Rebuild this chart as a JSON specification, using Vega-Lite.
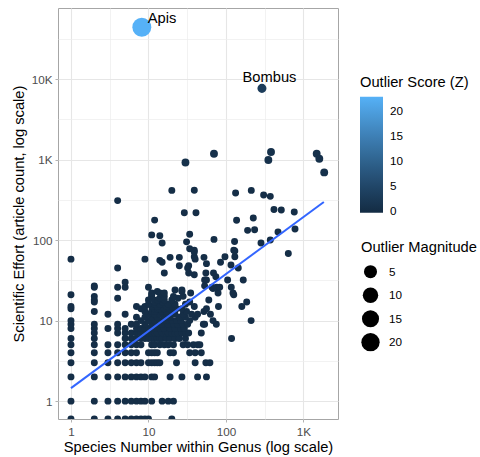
{
"$schema":"https://vega.github.io/schema/vega-lite/v6.json",
"width":280,"height":411,
"autosize":"none",
"padding":{"left":58,"top":8,"right":142,"bottom":38},
"config":{
 "font":"Liberation Sans",
 "view":{"stroke":"#A6A6A6","strokeWidth":1},
 "axis":{"labelFont":"Liberation Sans","labelFontSize":11.7,"labelColor":"#4D4D4D","titleFont":"Liberation Sans","titleFontSize":14.7,"titleFontWeight":"normal","titleColor":"#000000","tickColor":"#B3B3B3","tickSize":3,"domain":false,"gridColor":"#E6E6E6","gridWidth":1.1},
 "legend":{"titleFont":"Liberation Sans","titleFontSize":14.7,"titleFontWeight":"normal","titleColor":"#000000","labelFont":"Liberation Sans","labelFontSize":11.7,"labelColor":"#000000","padding":0}
},
"datasets":{
"pts":[
{"species":1,"articles":0.6,"z":0.3,"mag":0.35},{"species":2,"articles":0.6,"z":0.3,"mag":0.35},{"species":3,"articles":0.6,"z":0.3,"mag":0.35},{"species":4,"articles":0.6,"z":0.3,"mag":0.35},{"species":5,"articles":0.6,"z":0.3,"mag":0.35},{"species":6,"articles":0.6,"z":0.3,"mag":0.35},{"species":7,"articles":0.6,"z":0.3,"mag":0.35},{"species":8,"articles":0.6,"z":0.3,"mag":0.35},{"species":9,"articles":0.6,"z":0.3,"mag":0.35},{"species":10,"articles":0.6,"z":0.3,"mag":0.35},{"species":20,"articles":0.6,"z":0.3,"mag":0.35},
{"species":1,"articles":1,"z":0.3,"mag":0.35},{"species":2,"articles":1,"z":0.3,"mag":0.35},{"species":3,"articles":1,"z":0.3,"mag":0.35},{"species":4,"articles":1,"z":0.3,"mag":0.35},{"species":5,"articles":1,"z":0.3,"mag":0.35},{"species":6,"articles":1,"z":0.3,"mag":0.35},{"species":7,"articles":1,"z":0.3,"mag":0.35},{"species":8,"articles":1,"z":0.3,"mag":0.35},{"species":9,"articles":1,"z":0.3,"mag":0.35},{"species":11,"articles":1,"z":0.3,"mag":0.35},{"species":15,"articles":1,"z":0.3,"mag":0.35},{"species":18,"articles":1,"z":0.3,"mag":0.35},{"species":21,"articles":1,"z":0.3,"mag":0.35},
{"species":1,"articles":2,"z":0.3,"mag":0.35},{"species":2,"articles":2,"z":0.3,"mag":0.35},{"species":3,"articles":2,"z":0.3,"mag":0.35},{"species":4,"articles":2,"z":0.3,"mag":0.35},{"species":5,"articles":2,"z":0.3,"mag":0.35},{"species":6,"articles":2,"z":0.3,"mag":0.35},{"species":7,"articles":2,"z":0.3,"mag":0.35},{"species":8,"articles":2,"z":0.3,"mag":0.35},{"species":9,"articles":2,"z":0.3,"mag":0.35},{"species":11,"articles":2,"z":0.3,"mag":0.35},{"species":12,"articles":2,"z":0.3,"mag":0.35},{"species":19,"articles":2,"z":0.3,"mag":0.35},{"species":27,"articles":2,"z":0.3,"mag":0.35},{"species":43,"articles":2,"z":0.3,"mag":0.35},{"species":56,"articles":2,"z":0.3,"mag":0.35},
{"species":1,"articles":3,"z":0.3,"mag":0.35},{"species":2,"articles":3,"z":0.3,"mag":0.35},{"species":3,"articles":3,"z":0.3,"mag":0.35},{"species":4,"articles":3,"z":0.3,"mag":0.35},{"species":5,"articles":3,"z":0.3,"mag":0.35},{"species":6,"articles":3,"z":0.3,"mag":0.35},{"species":7,"articles":3,"z":0.3,"mag":0.35},{"species":8,"articles":3,"z":0.3,"mag":0.35},{"species":10,"articles":3,"z":0.3,"mag":0.35},{"species":11,"articles":3,"z":0.3,"mag":0.35},{"species":12,"articles":3,"z":0.3,"mag":0.35},{"species":13,"articles":3,"z":0.3,"mag":0.35},{"species":14,"articles":3,"z":0.3,"mag":0.35},{"species":23,"articles":3,"z":0.3,"mag":0.35},{"species":40,"articles":3,"z":0.3,"mag":0.35},{"species":55,"articles":3,"z":0.3,"mag":0.35},{"species":62,"articles":3,"z":0.3,"mag":0.35},
{"species":1,"articles":4,"z":0.3,"mag":0.35},{"species":2,"articles":4,"z":0.3,"mag":0.35},{"species":3,"articles":4,"z":0.3,"mag":0.35},{"species":4,"articles":4,"z":0.3,"mag":0.35},{"species":5,"articles":4,"z":0.3,"mag":0.35},{"species":6,"articles":4,"z":0.3,"mag":0.35},{"species":7,"articles":4,"z":0.3,"mag":0.35},{"species":10,"articles":4,"z":0.3,"mag":0.35},{"species":11,"articles":4,"z":0.3,"mag":0.35},{"species":12,"articles":4,"z":0.3,"mag":0.35},{"species":13,"articles":4,"z":0.3,"mag":0.35},{"species":19,"articles":4,"z":0.3,"mag":0.35},{"species":21,"articles":4,"z":0.3,"mag":0.35},{"species":34,"articles":4,"z":0.3,"mag":0.35},{"species":40,"articles":4,"z":0.3,"mag":0.35},{"species":48,"articles":4,"z":0.3,"mag":0.35},
{"species":1,"articles":5,"z":0.3,"mag":0.35},{"species":2,"articles":5,"z":0.3,"mag":0.35},{"species":3,"articles":5,"z":0.3,"mag":0.35},{"species":4,"articles":5,"z":0.3,"mag":0.35},{"species":5,"articles":5,"z":0.3,"mag":0.35},{"species":6,"articles":5,"z":0.3,"mag":0.35},{"species":7,"articles":5,"z":0.3,"mag":0.35},{"species":8,"articles":5,"z":0.3,"mag":0.35},{"species":11,"articles":5,"z":0.3,"mag":0.35},{"species":12,"articles":5,"z":0.3,"mag":0.35},{"species":14,"articles":5,"z":0.3,"mag":0.35},{"species":16,"articles":5,"z":0.3,"mag":0.35},{"species":18,"articles":5,"z":0.3,"mag":0.35},{"species":21,"articles":5,"z":0.3,"mag":0.35},{"species":28,"articles":5,"z":0.3,"mag":0.35},{"species":32,"articles":5,"z":0.3,"mag":0.35},{"species":38,"articles":5,"z":0.3,"mag":0.35},{"species":43,"articles":5,"z":0.3,"mag":0.35},{"species":46,"articles":5,"z":0.3,"mag":0.35},
{"species":1,"articles":6,"z":0.3,"mag":0.35},{"species":2,"articles":6,"z":0.3,"mag":0.35},{"species":5,"articles":6,"z":0.3,"mag":0.35},{"species":6,"articles":6,"z":0.3,"mag":0.35},{"species":7,"articles":6,"z":0.3,"mag":0.35},{"species":8,"articles":6,"z":0.3,"mag":0.35},{"species":9,"articles":6,"z":0.3,"mag":0.35},{"species":10,"articles":6,"z":0.3,"mag":0.35},{"species":11,"articles":6,"z":0.3,"mag":0.35},{"species":12,"articles":6,"z":0.3,"mag":0.35},{"species":13,"articles":6,"z":0.3,"mag":0.35},{"species":14,"articles":6,"z":0.3,"mag":0.35},{"species":15,"articles":6,"z":0.3,"mag":0.35},{"species":17,"articles":6,"z":0.3,"mag":0.35},{"species":19,"articles":6,"z":0.3,"mag":0.35},{"species":22,"articles":6,"z":0.3,"mag":0.35},{"species":25,"articles":6,"z":0.3,"mag":0.35},{"species":30,"articles":6,"z":0.3,"mag":0.35},{"species":118,"articles":6,"z":0.3,"mag":0.35},
{"species":2,"articles":7,"z":0.3,"mag":0.35},{"species":4,"articles":7,"z":0.3,"mag":0.35},{"species":5,"articles":7,"z":0.3,"mag":0.35},{"species":6,"articles":7,"z":0.3,"mag":0.35},{"species":7,"articles":7,"z":0.3,"mag":0.35},{"species":8,"articles":7,"z":0.3,"mag":0.35},{"species":9,"articles":7,"z":0.3,"mag":0.35},{"species":10,"articles":7,"z":0.3,"mag":0.35},{"species":11,"articles":7,"z":0.3,"mag":0.35},{"species":12,"articles":7,"z":0.3,"mag":0.35},{"species":13,"articles":7,"z":0.3,"mag":0.35},{"species":15,"articles":7,"z":0.3,"mag":0.35},{"species":17,"articles":7,"z":0.3,"mag":0.35},{"species":18,"articles":7,"z":0.3,"mag":0.35},{"species":20,"articles":7,"z":0.3,"mag":0.35},{"species":22,"articles":7,"z":0.3,"mag":0.35},{"species":24,"articles":7,"z":0.3,"mag":0.35},{"species":27,"articles":7,"z":0.3,"mag":0.35},{"species":30,"articles":7,"z":0.3,"mag":0.35},{"species":33,"articles":7,"z":0.3,"mag":0.35},{"species":48,"articles":7,"z":0.3,"mag":0.35},
{"species":1,"articles":8,"z":0.3,"mag":0.35},{"species":2,"articles":8,"z":0.3,"mag":0.35},{"species":3,"articles":8,"z":0.3,"mag":0.35},{"species":4,"articles":8,"z":0.3,"mag":0.35},{"species":5,"articles":8,"z":0.3,"mag":0.35},{"species":7,"articles":8,"z":0.3,"mag":0.35},{"species":8,"articles":8,"z":0.3,"mag":0.35},{"species":9,"articles":8,"z":0.3,"mag":0.35},{"species":10,"articles":8,"z":0.3,"mag":0.35},{"species":12,"articles":8,"z":0.3,"mag":0.35},{"species":14,"articles":8,"z":0.3,"mag":0.35},{"species":16,"articles":8,"z":0.3,"mag":0.35},{"species":19,"articles":8,"z":0.3,"mag":0.35},{"species":22,"articles":8,"z":0.3,"mag":0.35},{"species":26,"articles":8,"z":0.3,"mag":0.35},{"species":29,"articles":8,"z":0.3,"mag":0.35},
{"species":1,"articles":9,"z":0.3,"mag":0.35},{"species":2,"articles":9,"z":0.3,"mag":0.35},{"species":4,"articles":9,"z":0.3,"mag":0.35},{"species":6,"articles":9,"z":0.3,"mag":0.35},{"species":7,"articles":9,"z":0.3,"mag":0.35},{"species":9,"articles":9,"z":0.3,"mag":0.35},{"species":11,"articles":9,"z":0.3,"mag":0.35},{"species":13,"articles":9,"z":0.3,"mag":0.35},{"species":15,"articles":9,"z":0.3,"mag":0.35},{"species":18,"articles":9,"z":0.3,"mag":0.35},{"species":21,"articles":9,"z":0.3,"mag":0.35},{"species":24,"articles":9,"z":0.3,"mag":0.35},{"species":28,"articles":9,"z":0.3,"mag":0.35},{"species":32,"articles":9,"z":0.3,"mag":0.35},{"species":51,"articles":9,"z":0.3,"mag":0.35},{"species":53,"articles":9,"z":0.3,"mag":0.35},{"species":75,"articles":9,"z":0.3,"mag":0.35},
{"species":1,"articles":10,"z":0.3,"mag":0.35},{"species":8,"articles":10,"z":0.3,"mag":0.35},{"species":10,"articles":10,"z":0.3,"mag":0.35},{"species":12,"articles":10,"z":0.3,"mag":0.35},{"species":14,"articles":10,"z":0.3,"mag":0.35},{"species":17,"articles":10,"z":0.3,"mag":0.35},{"species":20,"articles":10,"z":0.3,"mag":0.35},{"species":23,"articles":10,"z":0.3,"mag":0.35},{"species":26,"articles":10,"z":0.3,"mag":0.35},{"species":34,"articles":10,"z":0.3,"mag":0.35},{"species":68,"articles":10,"z":0.3,"mag":0.35},{"species":211,"articles":10,"z":0.3,"mag":0.35},
{"species":7,"articles":11,"z":0.3,"mag":0.35},{"species":9,"articles":11,"z":0.3,"mag":0.35},{"species":11,"articles":11,"z":0.3,"mag":0.35},{"species":13,"articles":11,"z":0.3,"mag":0.35},{"species":16,"articles":11,"z":0.3,"mag":0.35},{"species":19,"articles":11,"z":0.3,"mag":0.35},{"species":25,"articles":11,"z":0.3,"mag":0.35},{"species":30,"articles":11,"z":0.3,"mag":0.35},{"species":40,"articles":11,"z":0.3,"mag":0.35},
{"species":3,"articles":12,"z":0.3,"mag":0.35},{"species":5,"articles":12,"z":0.3,"mag":0.35},{"species":10,"articles":12,"z":0.3,"mag":0.35},{"species":12,"articles":12,"z":0.3,"mag":0.35},{"species":14,"articles":12,"z":0.3,"mag":0.35},{"species":18,"articles":12,"z":0.3,"mag":0.35},{"species":22,"articles":12,"z":0.3,"mag":0.35},{"species":28,"articles":12,"z":0.3,"mag":0.35},{"species":36,"articles":12,"z":0.3,"mag":0.35},{"species":43,"articles":12,"z":0.3,"mag":0.35},{"species":63,"articles":12,"z":0.3,"mag":0.35},
{"species":2,"articles":13,"z":0.3,"mag":0.35},{"species":9,"articles":13,"z":0.3,"mag":0.35},{"species":11,"articles":13,"z":0.3,"mag":0.35},{"species":12,"articles":13,"z":0.3,"mag":0.35},{"species":15,"articles":13,"z":0.3,"mag":0.35},{"species":17,"articles":13,"z":0.3,"mag":0.35},{"species":21,"articles":13,"z":0.3,"mag":0.35},{"species":31,"articles":13,"z":0.3,"mag":0.35},{"species":52,"articles":13,"z":0.3,"mag":0.35},
{"species":1,"articles":14,"z":0.3,"mag":0.35},{"species":8,"articles":14,"z":0.3,"mag":0.35},{"species":12,"articles":14,"z":0.3,"mag":0.35},{"species":13,"articles":14,"z":0.3,"mag":0.35},{"species":14,"articles":14,"z":0.3,"mag":0.35},{"species":16,"articles":14,"z":0.3,"mag":0.35},{"species":19,"articles":14,"z":0.3,"mag":0.35},{"species":23,"articles":14,"z":0.3,"mag":0.35},{"species":27,"articles":14,"z":0.3,"mag":0.35},{"species":56,"articles":14,"z":0.3,"mag":0.35},
{"species":1,"articles":15,"z":0.3,"mag":0.35},{"species":7,"articles":15,"z":0.3,"mag":0.35},{"species":9,"articles":15,"z":0.3,"mag":0.35},{"species":11,"articles":15,"z":0.3,"mag":0.35},{"species":13,"articles":15,"z":0.3,"mag":0.35},{"species":17,"articles":15,"z":0.3,"mag":0.35},{"species":20,"articles":15,"z":0.3,"mag":0.35},{"species":39,"articles":15,"z":0.3,"mag":0.35},{"species":80,"articles":15,"z":0.3,"mag":0.35},{"species":160,"articles":15,"z":0.3,"mag":0.35},
{"species":10,"articles":16,"z":0.3,"mag":0.35},{"species":12,"articles":16,"z":0.3,"mag":0.35},{"species":14,"articles":16,"z":0.3,"mag":0.35},{"species":18,"articles":16,"z":0.3,"mag":0.35},{"species":22,"articles":16,"z":0.3,"mag":0.35},{"species":30,"articles":16,"z":0.3,"mag":0.35},
{"species":2,"articles":17,"z":0.3,"mag":0.35},{"species":12,"articles":17,"z":0.3,"mag":0.35},{"species":15,"articles":17,"z":0.3,"mag":0.35},{"species":34,"articles":17,"z":0.3,"mag":0.35},{"species":185,"articles":17,"z":0.3,"mag":0.35},
{"species":2,"articles":18,"z":0.3,"mag":0.35},{"species":10,"articles":18,"z":0.3,"mag":0.35},{"species":13,"articles":18,"z":0.3,"mag":0.35},{"species":16,"articles":18,"z":0.3,"mag":0.35},{"species":20,"articles":18,"z":0.3,"mag":0.35},{"species":60,"articles":18,"z":0.3,"mag":0.35},
{"species":4,"articles":19,"z":0.3,"mag":0.35},{"species":11,"articles":19,"z":0.3,"mag":0.35},{"species":14,"articles":19,"z":0.3,"mag":0.35},{"species":24,"articles":19,"z":0.3,"mag":0.35},
{"species":2,"articles":20,"z":0.3,"mag":0.35},{"species":11,"articles":20,"z":0.3,"mag":0.35},{"species":16,"articles":20,"z":0.3,"mag":0.35},{"species":21,"articles":20,"z":0.3,"mag":0.35},{"species":28,"articles":20,"z":0.3,"mag":0.35},
{"species":1,"articles":21,"z":0.3,"mag":0.35},{"species":11,"articles":21,"z":0.3,"mag":0.35},{"species":126,"articles":21,"z":0.3,"mag":0.35},
{"species":11,"articles":22,"z":0.3,"mag":0.35},{"species":14,"articles":22,"z":0.3,"mag":0.35},{"species":16,"articles":22,"z":0.3,"mag":0.35},{"species":35,"articles":22,"z":0.3,"mag":0.35},{"species":79,"articles":22,"z":0.3,"mag":0.35},{"species":123,"articles":22,"z":0.3,"mag":0.35},
{"species":13,"articles":23,"z":0.3,"mag":0.35},{"species":27,"articles":23,"z":0.3,"mag":0.35},{"species":22,"articles":24,"z":0.3,"mag":0.35},{"species":27,"articles":24,"z":0.3,"mag":0.35},{"species":68,"articles":25,"z":0.3,"mag":0.35},
{"species":2,"articles":26,"z":0.3,"mag":0.35},{"species":4,"articles":26,"z":0.3,"mag":0.35},{"species":5,"articles":26,"z":0.3,"mag":0.35},{"species":10,"articles":26,"z":0.3,"mag":0.35},{"species":66,"articles":26,"z":0.3,"mag":0.35},{"species":76,"articles":26,"z":0.3,"mag":0.35},{"species":83,"articles":26,"z":0.3,"mag":0.35},{"species":117,"articles":26,"z":0.3,"mag":0.35},
{"species":2,"articles":27,"z":0.3,"mag":0.35},{"species":53,"articles":27,"z":0.3,"mag":0.35},{"species":5,"articles":30,"z":0.3,"mag":0.35},
{"species":53,"articles":32,"z":0.3,"mag":0.35},{"species":56,"articles":32,"z":0.3,"mag":0.35},{"species":105,"articles":32,"z":0.3,"mag":0.35},{"species":167,"articles":32,"z":0.3,"mag":0.35},
{"species":74,"articles":35,"z":0.3,"mag":0.35},{"species":39,"articles":37,"z":0.3,"mag":0.35},
{"species":16,"articles":39,"z":0.3,"mag":0.35},{"species":33,"articles":39,"z":0.3,"mag":0.35},{"species":55,"articles":39,"z":0.3,"mag":0.35},{"species":69,"articles":39,"z":0.3,"mag":0.35},
{"species":4,"articles":45,"z":0.3,"mag":0.35},{"species":32,"articles":45,"z":0.3,"mag":0.35},{"species":144,"articles":45,"z":0.3,"mag":0.35},
{"species":25,"articles":48,"z":0.3,"mag":0.35},{"species":33,"articles":48,"z":0.3,"mag":0.35},{"species":116,"articles":49,"z":0.3,"mag":0.35},{"species":56,"articles":51,"z":0.3,"mag":0.35},
{"species":15,"articles":53,"z":0.3,"mag":0.35},{"species":85,"articles":53,"z":0.3,"mag":0.35},{"species":14,"articles":56,"z":0.3,"mag":0.35},
{"species":1,"articles":58,"z":0.3,"mag":0.35},{"species":9,"articles":58,"z":0.3,"mag":0.35},{"species":40,"articles":58,"z":0.3,"mag":0.35},
{"species":19,"articles":61,"z":0.3,"mag":0.35},{"species":25,"articles":61,"z":0.3,"mag":0.35},{"species":52,"articles":61,"z":0.3,"mag":0.35},
{"species":39,"articles":62,"z":0.3,"mag":0.35},{"species":97,"articles":62,"z":0.3,"mag":0.35},{"species":130,"articles":62,"z":0.3,"mag":0.35},
{"species":637,"articles":68,"z":0.3,"mag":0.35},{"species":39,"articles":71,"z":0.3,"mag":0.35},{"species":130,"articles":73,"z":0.3,"mag":0.35},
{"species":39,"articles":75,"z":0.3,"mag":0.35},{"species":126,"articles":75,"z":0.3,"mag":0.35},{"species":34,"articles":78,"z":0.3,"mag":0.35},
{"species":15,"articles":92,"z":0.3,"mag":0.35},{"species":283,"articles":92,"z":0.3,"mag":0.35},{"species":31,"articles":95,"z":0.3,"mag":0.35},{"species":129,"articles":96,"z":0.3,"mag":0.35},
{"species":373,"articles":100,"z":0.3,"mag":0.35},{"species":70,"articles":102,"z":0.3,"mag":0.35},{"species":14,"articles":113,"z":0.3,"mag":0.35},{"species":11,"articles":116,"z":0.3,"mag":0.35},{"species":34,"articles":118,"z":0.3,"mag":0.35},
{"species":469,"articles":126,"z":0.3,"mag":0.35},{"species":190,"articles":132,"z":0.3,"mag":0.35},{"species":234,"articles":134,"z":0.3,"mag":0.35},{"species":777,"articles":137,"z":0.3,"mag":0.35},
{"species":137,"articles":176,"z":0.3,"mag":0.35},{"species":12,"articles":177,"z":0.3,"mag":0.35},{"species":225,"articles":188,"z":0.3,"mag":0.35},
{"species":29,"articles":218,"z":0.3,"mag":0.35},{"species":41,"articles":218,"z":0.3,"mag":0.35},{"species":760,"articles":223,"z":0.3,"mag":0.35},{"species":517,"articles":236,"z":0.3,"mag":0.35},{"species":416,"articles":240,"z":0.3,"mag":0.35},
{"species":4,"articles":309,"z":0.3,"mag":0.35},{"species":373,"articles":349,"z":0.3,"mag":0.35},{"species":306,"articles":362,"z":0.3,"mag":0.35},{"species":133,"articles":384,"z":0.3,"mag":0.35},
{"species":20,"articles":414,"z":0.3,"mag":0.35},{"species":212,"articles":414,"z":0.3,"mag":0.35},{"species":39,"articles":416,"z":0.3,"mag":0.35},
{"species":1850,"articles":692,"z":0.8,"mag":0.6},{"species":30,"articles":920,"z":0.8,"mag":0.6},{"species":352,"articles":986,"z":0.8,"mag":0.6},{"species":1600,"articles":1023,"z":0.8,"mag":0.6},{"species":70,"articles":1180,"z":0.8,"mag":0.6},{"species":1480,"articles":1180,"z":0.8,"mag":0.6},{"species":381,"articles":1240,"z":0.8,"mag":0.6},
{"species":291,"articles":7660,"z":3,"mag":1.1,"genus":"Bombus"},
{"species":8.2,"articles":43900,"z":22.8,"mag":22.8,"genus":"Apis"}
],
"fit":[{"species":1,"articles":1.45},{"species":1830,"articles":297}]
},
"layer":[
{
 "data":{"name":"pts"},
 "mark":{"type":"point","filled":true,"shape":"circle","opacity":1,"clip":true},
 "encoding":{
  "x":{"field":"species","type":"quantitative","scale":{"type":"log","domain":[0.68,2787],"nice":false},
   "axis":{"values":[1,10,100,1000],"labelExpr":"datum.value >= 1000 ? format(datum.value/1000,'d') + 'K' : format(datum.value,'d')","title":"Species Number within Genus (log scale)","labelPadding":4,"titlePadding":2,"grid":true,"labelFlush":false,"labelOverlap":false}},
  "y":{"field":"articles","type":"quantitative","scale":{"type":"log","domain":[0.6,76200],"nice":false},
   "axis":{"values":[1,10,100,1000,10000],"labelExpr":"datum.value >= 1000 ? format(datum.value/1000,'d') + 'K' : format(datum.value,'d')","title":"Scientific Effort (article count, log scale)","labelPadding":3,"titlePadding":5,"grid":true,"labelFlush":false,"labelOverlap":false}},
  "color":{"field":"z","type":"quantitative","scale":{"domain":[-0.3,22.8],"range":["#132B43","#56B1F7"],"interpolate":"lab"},
   "legend":{"title":"Outlier Score (Z)","orient":"none","legendX":302,"legendY":67,"direction":"vertical","gradientLength":116,"gradientThickness":23,"gradientStrokeWidth":0,"values":[0,5,10,15,20],"titlePadding":7,"labelOffset":7,"labelBaseline":"middle"}},
  "size":{"field":"mag","type":"quantitative","scale":{"type":"sqrt","domain":[0,23],"range":[4.5,360]},
   "legend":{"title":"Outlier Magnitude","orient":"none","legendX":303,"legendY":232,"values":[5,10,15,20],"symbolType":"circle","symbolFillColor":"#000000","symbolStrokeWidth":0,"symbolOpacity":1,"labelOffset":9,"titlePadding":7.5,"clipHeight":19,"rowPadding":4.5}}
 }
},
{
 "data":{"name":"fit"},
 "mark":{"type":"line","color":"#3366FF","strokeWidth":2},
 "encoding":{
  "x":{"field":"species","type":"quantitative","axis":{"orient":"top","values":[3.1623,31.623,316.23],"grid":true,"gridWidth":0.7,"gridColor":"#EDEDED","labels":false,"ticks":false,"domain":false,"title":null}},
  "y":{"field":"articles","type":"quantitative","axis":{"orient":"right","values":[3.1623,31.623,316.23,3162.3,31623],"grid":true,"gridWidth":0.7,"gridColor":"#EDEDED","labels":false,"ticks":false,"domain":false,"title":null}}
 }
},
{
 "data":{"name":"pts"},
 "transform":[{"filter":"datum.genus == 'Apis'"}],
 "mark":{"type":"text","align":"left","baseline":"middle","dx":6,"dy":-8,"fontSize":14.7,"font":"Liberation Sans","color":"#000000"},
 "encoding":{"x":{"field":"species","type":"quantitative","axis":null},"y":{"field":"articles","type":"quantitative","axis":null},"text":{"field":"genus"}}
},
{
 "data":{"name":"pts"},
 "transform":[{"filter":"datum.genus == 'Bombus'"}],
 "mark":{"type":"text","align":"center","baseline":"middle","dx":7.5,"dy":-10.5,"fontSize":14.7,"font":"Liberation Sans","color":"#000000"},
 "encoding":{"x":{"field":"species","type":"quantitative","axis":null},"y":{"field":"articles","type":"quantitative","axis":null},"text":{"field":"genus"}}
}
],
"resolve":{"axis":{"x":"independent","y":"independent"}}
}
